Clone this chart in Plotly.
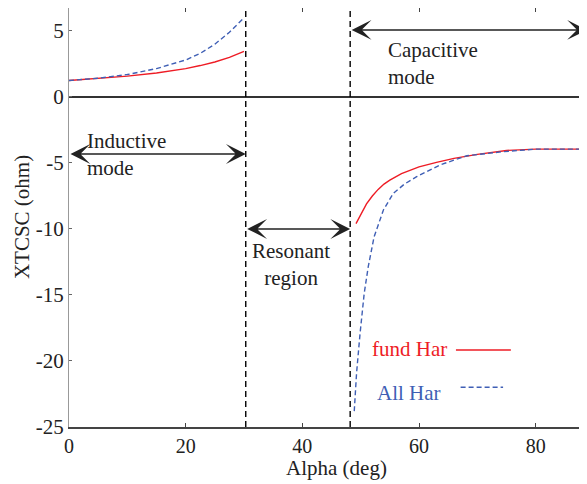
import plotly.graph_objects as go

# Inductive region (alpha 0..30)
ind_alpha = [0, 5, 10, 15, 20, 22.5, 25, 27.5, 30]
ind_fund = [1.25, 1.4, 1.58, 1.82, 2.15, 2.38, 2.65, 3.0, 3.45]
ind_all = [1.25, 1.42, 1.7, 2.15, 2.8, 3.3, 4.0, 4.9, 6.0]

# Capacitive region
cap_alpha_fund = [49.2, 50, 51, 52, 53, 54, 55, 57, 60, 63, 66, 70, 75, 80, 88.8]
cap_fund = [-9.6, -8.9, -8.1, -7.5, -7.0, -6.6, -6.3, -5.8, -5.3, -4.95, -4.65, -4.35, -4.05, -3.95, -3.95]
cap_alpha_all = [48.9, 49.3, 49.9, 50.6, 51.3, 52.3, 53.9, 55.6, 57.5, 59.6, 63.6, 68.2, 74.5, 80, 88.8]
cap_all = [-23.8, -20.9, -17.9, -14.9, -12.85, -10.6, -8.56, -7.3, -6.6, -6.04, -5.15, -4.45, -4.14, -3.95, -3.95]

# region boundaries (alpha)
boundaries = [30.3, 48.2]

x_ticks = [0, 20, 40, 60, 80]
y_ticks = [5, 0, -5, -10, -15, -20, -25]
y_ticktext = ["5", "0", "-5", "-10", "-15", "-20", "-25"]

RED = "#ee1c25"
BLUE = "#3f5fb5"
FONT = "Liberation Serif"
FS = 21

fig = go.Figure()
fig.add_trace(go.Scatter(x=ind_alpha + [None] + cap_alpha_fund, y=ind_fund + [None] + cap_fund,
                         mode="lines", line=dict(color=RED, width=1.4), showlegend=False))
fig.add_trace(go.Scatter(x=ind_alpha + [None] + cap_alpha_all, y=ind_all + [None] + cap_all,
                         mode="lines", line=dict(color=BLUE, width=1.4, dash="5px,3px"), showlegend=False))

for b in boundaries:
    fig.add_shape(type="line", x0=b, x1=b, y0=0, y1=1, xref="x", yref="paper",
                  line=dict(color="black", width=1.4, dash="6px,4px"))

# arrows
arrows = [
    (0, boundaries[0], -4.32),
    (boundaries[0], boundaries[1], -10.0),
    (boundaries[1], 88.8, 5.08),
]
for x0, x1, yy in arrows:
    fig.add_annotation(x=x1, y=yy, ax=x0, ay=yy, xref="x", yref="y", axref="x", ayref="y",
                       text="", showarrow=True, arrowhead=3, startarrowhead=3, arrowside="end+start",
                       arrowsize=2.2, startarrowsize=2.2, arrowwidth=1.5, arrowcolor="#222222",
                       standoff=0, startstandoff=0)

tfont = dict(family=FONT, size=FS, color="#222222")
fig.add_annotation(x=2.74, y=-4.39, xref="x", yref="y", text="Inductive<br>mode", showarrow=False,
                   xanchor="left", yanchor="middle", align="left", font=tfont)
fig.add_annotation(x=54.35, y=2.54, xref="x", yref="y", text="Capacitive<br>mode", showarrow=False,
                   xanchor="left", yanchor="middle", align="left", font=tfont)
fig.add_annotation(x=38.06, y=-12.72, xref="x", yref="y", text="Resonant<br>region", showarrow=False,
                   xanchor="center", yanchor="middle", align="center", font=tfont)

# axis titles
fig.add_annotation(x=0.517, y=-0.099, xref="paper", yref="paper", text="Alpha (deg)", showarrow=False,
                   xanchor="center", yanchor="middle", font=tfont)
fig.add_annotation(x=-0.0907, y=0.501, xref="paper", yref="paper", text="XTCSC (ohm)", showarrow=False,
                   xanchor="center", yanchor="middle", textangle=-90, font=tfont)

# legend (custom, text left of sample line)
fig.add_annotation(x=0.734, y=0.186, xref="paper", yref="paper", text="fund Har", showarrow=False,
                   xanchor="right", yanchor="middle", font=dict(family=FONT, size=FS, color=RED))
fig.add_annotation(x=0.7226, y=0.0811, xref="paper", yref="paper", text="All Har", showarrow=False,
                   xanchor="right", yanchor="middle", font=dict(family=FONT, size=FS, color=BLUE))
fig.add_shape(type="line", x0=0.747, x1=0.853, y0=0.1838, y1=0.1838, xref="paper", yref="paper",
              line=dict(color=RED, width=1.4))
fig.add_shape(type="line", x0=0.756, x1=0.838, y0=0.0947, y1=0.0947, xref="paper", yref="paper",
              line=dict(color=BLUE, width=1.4, dash="5px,3px"))

# page body has an 8px margin: size the figure so the plot area lands where the reference has it
fig.update_layout(
    width=579, height=476,
    margin=dict(l=61, r=0, t=0, b=57),
    paper_bgcolor="white", plot_bgcolor="white",
    font=dict(family=FONT, size=FS, color="#222222"),
    xaxis=dict(range=[0, 88.8], tickvals=x_ticks, ticks="inside", ticklen=4, tickcolor="#444",
               showline=True, linecolor="#444", linewidth=2, mirror="ticks", showgrid=False,
               zeroline=False, automargin=False,
               tickfont=dict(family=FONT, size=20, color="#222")),
    yaxis=dict(range=[-25, 6.74], tickvals=y_ticks, ticktext=y_ticktext, ticks="inside", ticklen=3,
               tickcolor="#666", showline=True, linecolor="#999", linewidth=1, mirror=False,
               showgrid=False, zeroline=True, zerolinecolor="#333", zerolinewidth=1.5,
               automargin=False,
               tickfont=dict(family=FONT, size=FS, color="#222")),
)

fig.write_html("out.html")
